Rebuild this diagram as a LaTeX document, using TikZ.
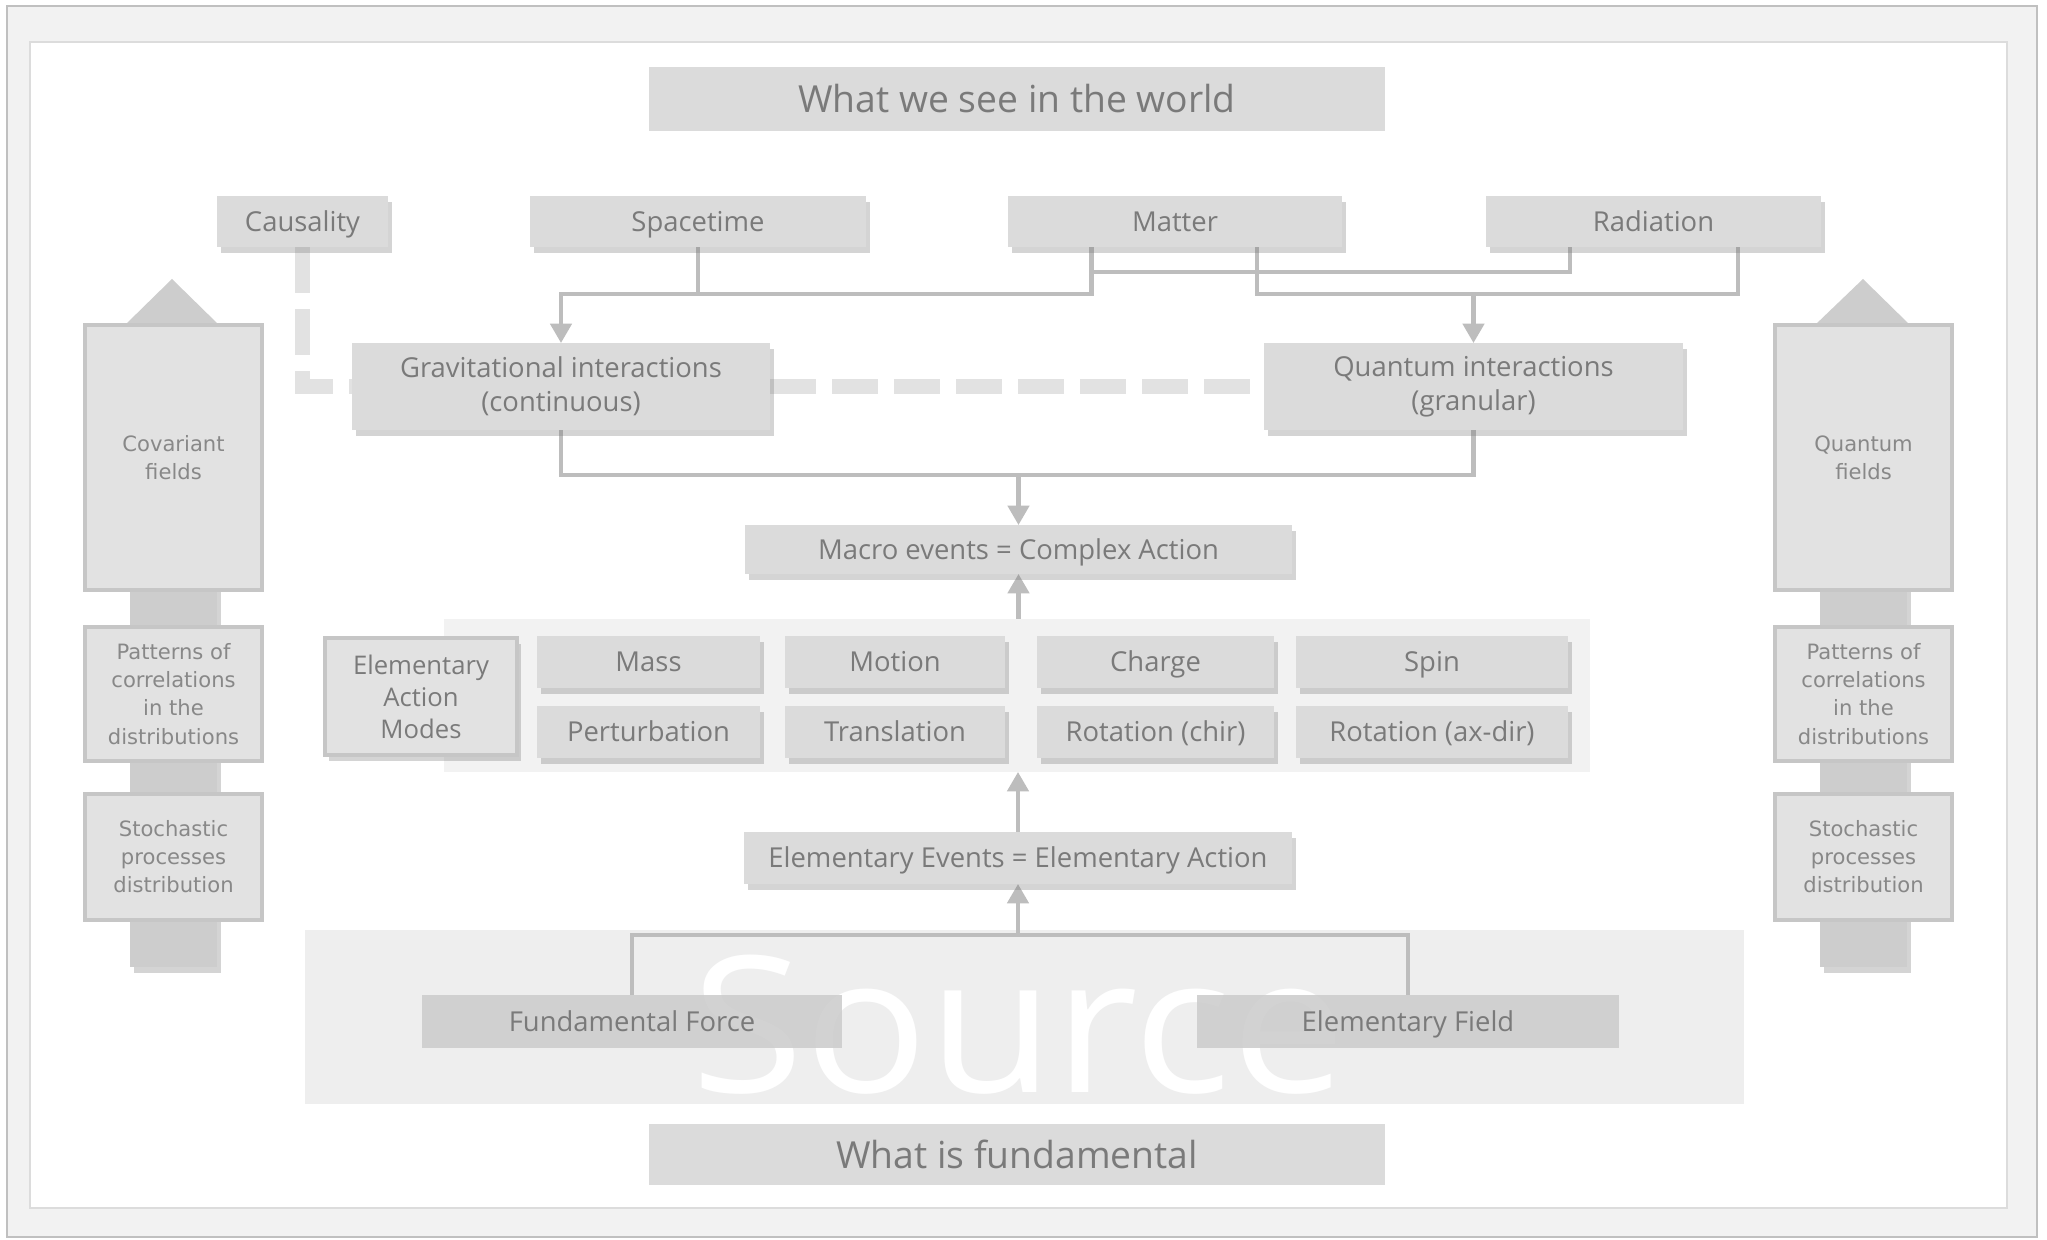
\documentclass[tikz,border=0pt]{standalone}
\usepackage{fontspec}
\usepackage{graphicx}
\setmainfont{Open Sans}
\newfontfamily\sidefont{DejaVu Sans}
\usetikzlibrary{arrows.meta,shadows,calc}
\definecolor{boxgray}{HTML}{DBDBDB}
\definecolor{txtgray}{HTML}{7A7A7A}
\definecolor{linegray}{HTML}{BDBDBD}
\definecolor{dashgray}{HTML}{E2E2E2}
\definecolor{panelgray}{HTML}{F2F2F2}
\definecolor{srcgray}{HTML}{EEEEEE}
\definecolor{sidefill}{HTML}{E2E2E2}
\definecolor{sideline}{HTML}{C6C6C6}
\definecolor{sidetxt}{HTML}{888888}
\definecolor{shaftgray}{HTML}{CDCDCD}
\definecolor{framegray}{HTML}{F2F2F2}
\definecolor{frameline}{HTML}{C0C0C0}
\definecolor{innerline}{HTML}{DCDCDC}
\definecolor{forcegray}{HTML}{CBCBCB}
\pgfdeclarelayer{back}
\pgfdeclarelayer{mid}
\pgfsetlayers{back,mid,main}
\tikzset{
  spot/.style n args={4}{at={({(#1+#3)/2},{(#2+#4)/2})}, anchor=center,
    minimum width={(#3-#1)*0.01cm}, minimum height={(#4-#2)*0.01cm}},
  flatbox/.style={fill=boxgray, text=txtgray, inner sep=0pt, outer sep=0pt, align=center,
    font=\fontsize{7.8}{9.6}\selectfont},
  shd/.style={drop shadow={shadow xshift=1.2pt, shadow yshift=-1.7pt, opacity=0.3, fill=black!55}},
  box/.style={flatbox, shd},
  oneline/.style={text height=6pt, text depth=0.4pt},
  box1/.style={box, oneline},
  eambox/.style={fill=sidefill, draw=sideline, line width=1.4pt, text=txtgray, inner sep=0pt,
    outer sep=0pt, align=center, font=\fontsize{7.3}{9.1}\selectfont, shd},
  side/.style={fill=sidefill, draw=sideline, line width=1.4pt, text=sidetxt, inner sep=0pt,
    outer sep=0pt, align=center, font=\sidefont\fontsize{6}{8}\selectfont},
  force/.style={fill=forcegray, fill opacity=0.85, text opacity=1, text=txtgray, inner sep=0pt,
    outer sep=0pt, font=\fontsize{7.8}{9.6}\selectfont, oneline},
  conn/.style={draw=linegray, line width=1.2pt},
  arr/.style={conn, -{Triangle[width=6pt,length=5.5pt]}},
  dashln/.style={draw=dashgray, line width=4pt, dash pattern=on 0.46cm off 0.16cm}
}
\begin{document}
\begin{tikzpicture}[x=0.01cm,y=-0.01cm]
\useasboundingbox (0,0) rectangle (2047,1240);
\begin{pgfonlayer}{back}
  \fill[white] (0,0) rectangle (2047,1240);
  \filldraw[fill=framegray, draw=frameline, line width=0.8pt] (7,6) rectangle (2037,1237);
  \filldraw[fill=white, draw=innerline, line width=0.6pt] (30,42) rectangle (2007,1208);
  \node[fill=panelgray, inner sep=0pt, outer sep=0pt, spot={444}{619}{1590}{772}] (panel) {};
  \node[fill=srcgray, inner sep=0pt, outer sep=0pt, spot={305}{930}{1744}{1104}] (srcp) {};
  \node[anchor=base, text=white, inner sep=0pt, font=\fontsize{54}{58}\selectfont] (srctxt) at (1019,1093) {\scalebox{1.08}[1]{Source}};
\end{pgfonlayer}

% top and bottom titles
\node[flatbox, spot={649}{67}{1385}{131}, font=\fontsize{10.6}{12}\selectfont] (top) {What we see in the world};
\node[flatbox, spot={649}{1124}{1385}{1185}, font=\fontsize{10.6}{12}\selectfont] (bottom) {What is fundamental};

% first row
\node[box1, spot={217}{196}{388}{247}] (caus) {Causality};
\node[box1, spot={530}{196}{866}{247}] (space) {Spacetime};
\node[box1, spot={1008}{196}{1342}{247}] (matter) {Matter};
\node[box1, spot={1486}{196}{1821}{247}] (rad) {Radiation};

% interactions
\node[box, spot={352}{343}{770}{430}] (grav) {Gravitational interactions\\(continuous)};
\node[box, spot={1264}{343}{1683}{430}] (quant) {Quantum interactions\\(granular)};

\node[box1, spot={745}{525}{1292}{574}] (macro) {Macro events = Complex Action};

% modes
\node[eambox, spot={325}{638}{517}{755}] (eam) {Elementary\\Action\\Modes};
\node[box1, spot={537}{636}{760}{688}] (mass) {Mass};
\node[box1, spot={785}{636}{1005}{688}] (motion) {Motion};
\node[box1, spot={1037}{636}{1274}{688}] (charge) {Charge};
\node[box1, spot={1296}{636}{1568}{688}] (spin) {Spin};
\node[box1, spot={537}{706}{760}{758}] (pert) {Perturbation};
\node[box1, spot={785}{706}{1005}{758}] (trans) {Translation};
\node[box1, spot={1037}{706}{1274}{758}] (rotc) {Rotation (chir)};
\node[box1, spot={1296}{706}{1568}{758}] (rota) {Rotation (ax-dir)};

\node[box1, spot={744}{832}{1292}{884}] (ee) {Elementary Events = Elementary Action};

% source boxes
\node[force, spot={422}{995}{842}{1048}] (ff) {Fundamental Force};
\node[force, spot={1197}{995}{1619}{1048}] (ef) {Elementary Field};

% left column
\fill[shaftgray, shd] (130,560) rectangle (217,967);
\fill[shaftgray] (124,326) -- (172,279) -- (220,326) -- cycle;
\node[side, spot={85}{325}{262}{590}] (cov) {Covariant\\fields};
\node[side, spot={85}{627}{262}{761}] (patl) {Patterns of\\correlations\\in the\\distributions};
\node[side, spot={85}{794}{262}{920}] (stol) {Stochastic\\processes\\distribution};

% right column
\fill[shaftgray, shd] (1820,560) rectangle (1907,967);
\fill[shaftgray] (1814,326) -- (1863,279) -- (1911,326) -- cycle;
\node[side, spot={1775}{325}{1952}{590}] (qf) {Quantum\\fields};
\node[side, spot={1775}{627}{1952}{761}] (patr) {Patterns of\\correlations\\in the\\distributions};
\node[side, spot={1775}{794}{1952}{920}] (stor) {Stochastic\\processes\\distribution};

\begin{pgfonlayer}{mid}
  \coordinate (y272) at (0,272);
  \coordinate (y294) at (0,294);
  \coordinate (y475) at (0,475);
  \coordinate (y935) at (0,935);
  \coordinate (mL) at ($(matter.south west)!0.25!(matter.south east)$);
  \coordinate (mR) at ($(matter.south west)!0.745!(matter.south east)$);
  \coordinate (rL) at ($(rad.south west)!0.25!(rad.south east)$);
  \coordinate (rR) at ($(rad.south west)!0.752!(rad.south east)$);
  \draw[dashln] (caus.south) |- (grav.west);
  \draw[dashln] (grav.east) -- (quant.west);
  \draw[conn] (space.south) -- (space.south |- y294);
  \draw[arr] (mL) |- (grav.north |- y294) -- (grav.north);
  \draw[conn] (mL |- y272) -| (rL);
  \draw[conn] (mR) |- (rR |- y294) -- (rR);
  \draw[arr] (quant.north |- y294) -- (quant.north);
  \draw[conn] (grav.south) |- (quant.south |- y475) -- (quant.south);
  \draw[arr] (macro.north |- y475) -- (macro.north);
  \draw[arr] (panel.north -| macro.south) -- (macro.south);
  \draw[arr] (ee.north) -- (ee.north |- panel.south);
  \draw[conn] (ff.north) |- (ef.north |- y935) -- (ef.north);
  \draw[arr] (ee.south |- y935) -- (ee.south);
\end{pgfonlayer}
\end{tikzpicture}
\end{document}
